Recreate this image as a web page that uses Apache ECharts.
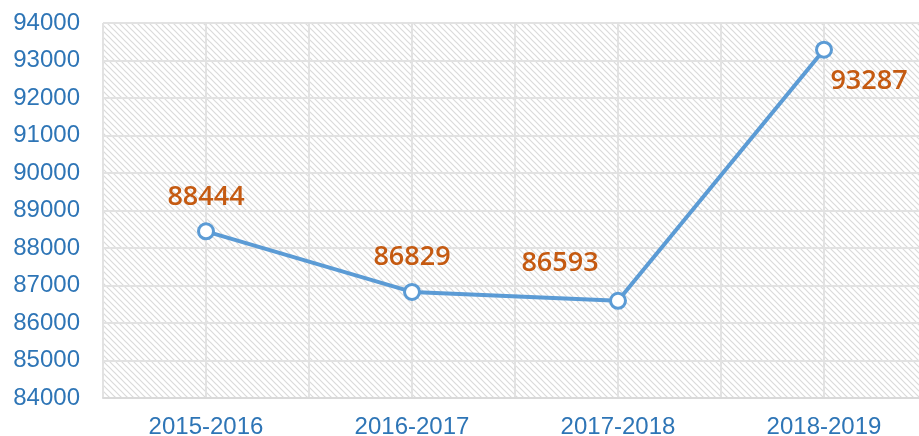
<!DOCTYPE html>
<html>
<head>
<meta charset="utf-8">
<script src="https://cdn.jsdelivr.net/npm/echarts@6/dist/echarts.min.js"></script>
<style>
    html, body { margin: 0; padding: 0; background: #fff; }
    #chart { width: 919px; height: 436px; }
</style>
</head>
<body>
<div id="chart"></div>
<script>
    // data
    const years = ['2015-2016', '2016-2017', '2017-2018', '2018-2019'];
    const students = [88444, 86829, 86593, 93287];
    // label placement per point (dx, dy) relative to the marker
    const labelOffsets = [[0, -34], [0, -35], [-58, -37], [45, 32]];
    const halfSteps = ['a', 'b', 'c', 'd', 'e', 'f', 'g', 'h'];

    // hatched background tile
    function makeHatch() {
        const c = document.createElement('canvas');
        c.width = 6; c.height = 6;
        const ctx = c.getContext('2d');
        ctx.fillStyle = '#ffffff';
        ctx.fillRect(0, 0, 6, 6);
        ctx.strokeStyle = '#dadada';
        ctx.lineWidth = 1.2;
        ctx.beginPath();
        ctx.moveTo(-1, -1); ctx.lineTo(7, 7);
        ctx.moveTo(-4, 2); ctx.lineTo(4, 10);
        ctx.moveTo(2, -4); ctx.lineTo(10, 4);
        ctx.stroke();
        return c;
    }

    const chart = echarts.init(document.getElementById('chart'));
    const blue = '#2e75b6';

    let option = {
        animation: false,
        grid: {
            left: 103,
            right: -8,
            top: 23,
            bottom: 38,
            outerBoundsMode: 'none',
            containLabel: false,
            show: true,
            borderWidth: 0,
            backgroundColor: { image: makeHatch(), repeat: 'repeat' }
        },
        xAxis: [
            {
                type: 'category',
                data: years,
                boundaryGap: true,
                axisLine: { show: true, lineStyle: { color: '#d9d9d9', width: 2 } },
                axisTick: { show: false },
                splitLine: { show: false },
                axisLabel: {
                    color: blue,
                    fontSize: 24,
                    fontFamily: 'Liberation Sans',
                    margin: 17
                }
            },
            {
                type: 'category',
                data: halfSteps,
                position: 'bottom',
                boundaryGap: true,
                axisLine: { show: false },
                axisTick: { show: false },
                axisLabel: { show: false },
                splitLine: { show: true, lineStyle: { color: '#e2e2e2', width: 2 } }
            }
        ],
        yAxis: {
            type: 'value',
            min: 84000,
            max: 94000,
            interval: 1000,
            axisLine: { show: false },
            axisTick: { show: false },
            splitLine: { show: true, lineStyle: { color: '#e2e2e2', width: 2 } },
            axisLabel: {
                color: blue,
                fontSize: 24,
                fontFamily: 'Liberation Sans',
                margin: 23,
                formatter: (v) => String(v)
            }
        },
        series: [
            {
                type: 'line',
                xAxisIndex: 0,
                data: students.map((v, i) => ({
                    value: v,
                    label: { offset: labelOffsets[i] }
                })),
                lineStyle: { color: '#5b9bd5', width: 4 },
                itemStyle: { color: '#fff', borderColor: '#5b9bd5', borderWidth: 3 },
                symbol: 'circle',
                symbolSize: 15,
                z: 5,
                label: {
                    show: true,
                    position: 'inside',
                    color: '#c55a11',
                    fontSize: 27,
                    fontWeight: 600,
                    fontFamily: 'Open Sans'
                }
            }
        ]
    };

    chart.setOption(option);
</script>
</body>
</html>
